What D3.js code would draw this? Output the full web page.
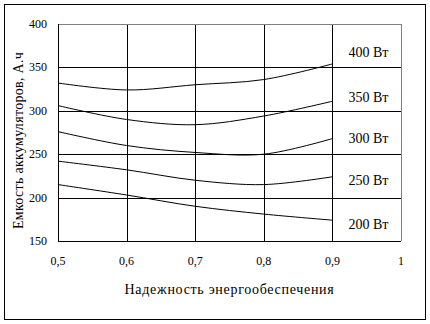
<!DOCTYPE html>
<html>
<head>
<meta charset="utf-8">
<script src="https://cdn.jsdelivr.net/npm/d3@7"></script>
<style>
  body { margin: 0; background: #fff; }
</style>
</head>
<body>
<div class="container"></div>
<script>
// reliability values (x)
const reliability = [0.5, 0.6, 0.7, 0.8, 0.9];
// battery capacity, A.h, one array per load power
const series400 = [332, 324, 330, 336, 354];
const series350 = [306, 290, 284, 294, 311];
const series300 = [276, 260, 252, 250, 268];
const series250 = [242, 232, 220, 215, 224];
const series200 = [215, 203, 190, 181, 174];
const seriesNames = ['400 Вт', '350 Вт', '300 Вт', '250 Вт', '200 Вт'];
// where each label sits (capacity units)
const labelAt = [368, 316, 269, 220, 170];
const xTicks = [0.5, 0.6, 0.7, 0.8, 0.9, 1];
const yTicks = [150, 200, 250, 300, 350, 400];

const allSeries = [series400, series350, series300, series250, series200];
const FONT = "'Liberation Serif', 'Times New Roman', serif";

function draw({width, height, margin}) {
    const svg = d3.select('.container')
        .append('svg')
        .attr('width', width)
        .attr('height', height)
        .attr('font-family', FONT);

    // outer frame
    svg.append('rect')
        .attr('x', 4.5).attr('y', 4.5)
        .attr('width', 421).attr('height', 315)
        .attr('fill', 'none')
        .attr('stroke', '#000');

    const x = d3.scaleLinear().domain([0.5, 1]).range([margin.left, width - margin.right]);
    const y = d3.scaleLinear().domain([150, 400]).range([height - margin.bottom, margin.top]);

    const g = svg.append('g');

    // grid
    g.selectAll('line.vgrid')
        .data(xTicks.slice(1))
        .enter().append('line')
        .attr('x1', d => Math.round(x(d)) + 0.5)
        .attr('x2', d => Math.round(x(d)) + 0.5)
        .attr('y1', y(150))
        .attr('y2', y(400))
        .attr('stroke', d => d === 1 ? '#808080' : '#000');

    g.selectAll('line.hgrid')
        .data(yTicks.slice(1))
        .enter().append('line')
        .attr('x1', x(0.5))
        .attr('x2', x(1))
        .attr('y1', d => Math.round(y(d)) + 0.5)
        .attr('y2', d => Math.round(y(d)) + 0.5)
        .attr('stroke', d => d === 400 ? '#808080' : '#000');

    // axes lines
    g.append('line')
        .attr('x1', Math.round(x(0.5)) + 0.5).attr('x2', Math.round(x(0.5)) + 0.5)
        .attr('y1', y(150)).attr('y2', y(400))
        .attr('stroke', '#000');
    g.append('line')
        .attr('x1', x(0.5)).attr('x2', x(1))
        .attr('y1', Math.round(y(150)) + 0.5).attr('y2', Math.round(y(150)) + 0.5)
        .attr('stroke', '#000');

    // tick labels
    g.selectAll('text.xt')
        .data(xTicks)
        .enter().append('text')
        .attr('x', d => x(d))
        .attr('y', y(150) + 24)
        .attr('text-anchor', 'middle')
        .attr('font-size', 12)
        .text(d => String(d).replace('.', ','));

    g.selectAll('text.yt')
        .data(yTicks)
        .enter().append('text')
        .attr('x', x(0.5) - 11)
        .attr('y', d => y(d) + 4)
        .attr('text-anchor', 'end')
        .attr('font-size', 12)
        .text(d => d);

    // curves
    const line = d3.line()
        .x((d, i) => x(reliability[i]))
        .y(d => y(d))
        .curve(d3.curveCatmullRom.alpha(0.5));

    g.selectAll('path.curve')
        .data(allSeries)
        .enter().append('path')
        .attr('d', line)
        .attr('fill', 'none')
        .attr('stroke', '#000')
        .attr('stroke-width', 1);

    // series labels
    g.selectAll('text.lbl')
        .data(seriesNames)
        .enter().append('text')
        .attr('x', x(0.9) + 16)
        .attr('y', (d, i) => y(labelAt[i]) + 5)
        .attr('font-size', 14)
        .text(d => d);

    // axis titles
    svg.append('text')
        .attr('x', (x(0.5) + x(1)) / 2)
        .attr('y', 294)
        .attr('text-anchor', 'middle')
        .attr('font-size', 14)
        .attr('letter-spacing', 0.7)
        .text('Надежность энергообеспечения');

    svg.append('text')
        .attr('transform', `translate(23,${(y(150) + y(400)) / 2 + 8}) rotate(-90)`)
        .attr('text-anchor', 'middle')
        .attr('font-size', 14)
        .attr('letter-spacing', 0.3)
        .text('Емкость аккумуляторов, А.ч');
}

draw({width: 430, height: 324, margin: {top: 24, right: 29, bottom: 83, left: 58}});
</script>
</body>
</html>
